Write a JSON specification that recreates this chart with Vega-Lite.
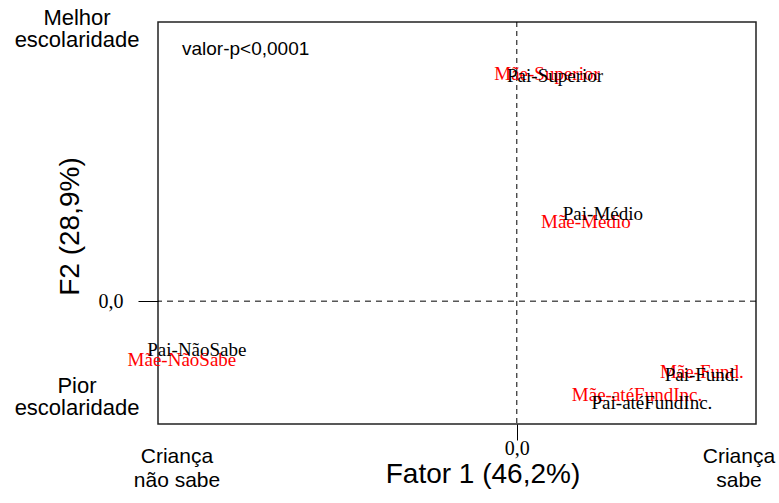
{
  "$schema": "https://vega.github.io/schema/vega-lite/v6.json",
  "width": 598,
  "height": 402,
  "autosize": {"type": "none"},
  "padding": {"left": 158, "top": 22, "right": 23, "bottom": 79},
  "background": "white",
  "config": {
    "view": {"stroke": "#222222", "strokeWidth": 1.5},
    "axisX": {
      "values": [0], "labelExpr": "'0,0'", "grid": false, "domain": false,
      "tickSize": 16, "tickColor": "black", "tickWidth": 1,
      "labelFont": "Liberation Serif", "labelFontSize": 20, "labelColor": "black", "labelPadding": -2,
      "titleFont": "Liberation Sans", "titleFontSize": 28, "titleFontWeight": "normal",
      "titleColor": "black", "titleX": 324.5, "titleY": 58, "titleBaseline": "alphabetic", "titleAlign": "center"
    },
    "axisY": {
      "values": [0], "labelExpr": "'0,0'", "grid": false, "domain": false,
      "tickSize": 20, "tickColor": "black", "tickWidth": 1,
      "labelFont": "Liberation Serif", "labelFontSize": 20, "labelColor": "black", "labelPadding": 15,
      "titleFont": "Liberation Sans", "titleFontSize": 28, "titleFontWeight": "normal",
      "titleColor": "black", "titleX": -80, "titleY": 204, "titleAngle": -90, "titleBaseline": "alphabetic", "titleAlign": "center"
    }
  },
  "layer": [
    {
      "data": {"values": [{"x": 0}]},
      "mark": {"type": "rule", "color": "black", "strokeWidth": 1, "strokeDash": [5, 4]},
      "encoding": {
        "x": {"field": "x", "type": "quantitative", "title": "Fator 1 (46,2%)", "scale": {"domain": [-1.2, 0.8], "nice": false, "zero": false}, "axis": {"values": [0], "labelExpr": "'0,0'"}}
      }
    },
    {
      "data": {"values": [{"y": 0}]},
      "mark": {"type": "rule", "color": "black", "strokeWidth": 1, "strokeDash": [6, 5]},
      "encoding": {
        "y": {"field": "y", "type": "quantitative", "title": "F2 (28,9%)", "scale": {"domain": [-0.44, 1.0], "nice": false, "zero": false}, "axis": {"values": [0], "labelExpr": "'0,0'"}}
      }
    },
    {
      "data": {"values": [
        {"label": "Mãe-Superior", "grupo": "Mãe", "x": 0.101, "y": 0.814},
        {"label": "Pai-Superior", "grupo": "Pai", "x": 0.128, "y": 0.807},
        {"label": "Mãe-Médio", "grupo": "Mãe", "x": 0.231, "y": 0.284},
        {"label": "Pai-Médio", "grupo": "Pai", "x": 0.288, "y": 0.312},
        {"label": "Mãe-NãoSabe", "grupo": "Mãe", "x": -1.120, "y": -0.211},
        {"label": "Pai-NãoSabe", "grupo": "Pai", "x": -1.070, "y": -0.175},
        {"label": "Mãe-Fund.", "grupo": "Mãe", "x": 0.619, "y": -0.254},
        {"label": "Pai-Fund.", "grupo": "Pai", "x": 0.619, "y": -0.264},
        {"label": "Mãe-atéFundInc.", "grupo": "Mãe", "x": 0.402, "y": -0.336},
        {"label": "Pai-atéFundInc.", "grupo": "Pai", "x": 0.452, "y": -0.365}
      ]},
      "mark": {"type": "text", "font": "Liberation Serif", "fontSize": 19, "align": "center", "baseline": "middle"},
      "encoding": {
        "x": {"field": "x", "type": "quantitative", "title": "Fator 1 (46,2%)", "scale": {"domain": [-1.2, 0.8], "nice": false, "zero": false}, "axis": {"values": [0], "labelExpr": "'0,0'"}},
        "y": {"field": "y", "type": "quantitative", "title": "F2 (28,9%)", "scale": {"domain": [-0.44, 1.0], "nice": false, "zero": false}, "axis": {"values": [0], "labelExpr": "'0,0'"}},
        "text": {"field": "label", "type": "nominal"},
        "color": {"field": "grupo", "type": "nominal", "scale": {"domain": ["Mãe", "Pai"], "range": ["#ff0000", "#000000"]}, "legend": null}
      }
    },
    {
      "data": {"values": [
        {"t": "valor-p<0,0001", "x": -1.1197, "y": 0.8818}
      ]},
      "mark": {"type": "text", "font": "Liberation Sans", "fontSize": 19, "align": "left", "baseline": "alphabetic", "color": "black"},
      "encoding": {
        "x": {"field": "x", "type": "quantitative", "title": "Fator 1 (46,2%)", "axis": {"values": [0], "labelExpr": "'0,0'"}},
        "y": {"field": "y", "type": "quantitative", "title": "F2 (28,9%)", "axis": {"values": [0], "labelExpr": "'0,0'"}},
        "text": {"field": "t", "type": "nominal"}
      }
    },
    {
      "data": {"values": [
        {"t": "Melhor", "x": -1.4709, "y": 0.9893},
        {"t": "escolaridade", "x": -1.4709, "y": 0.9104},
        {"t": "Pior", "x": -1.4709, "y": -0.3289},
        {"t": "escolaridade", "x": -1.4709, "y": -0.4077}
      ]},
      "mark": {"type": "text", "font": "Liberation Sans", "fontSize": 22, "align": "center", "baseline": "alphabetic", "color": "black"},
      "encoding": {
        "x": {"field": "x", "type": "quantitative", "title": "Fator 1 (46,2%)", "axis": {"values": [0], "labelExpr": "'0,0'"}},
        "y": {"field": "y", "type": "quantitative", "title": "F2 (28,9%)", "axis": {"values": [0], "labelExpr": "'0,0'"}},
        "text": {"field": "t", "type": "nominal"}
      }
    },
    {
      "data": {"values": [
        {"t": "Criança", "x": -1.1365, "y": -0.5797},
        {"t": "não sabe", "x": -1.1365, "y": -0.6656},
        {"t": "Criança", "x": 0.7431, "y": -0.5797},
        {"t": "sabe", "x": 0.7431, "y": -0.6656}
      ]},
      "mark": {"type": "text", "font": "Liberation Sans", "fontSize": 21, "align": "center", "baseline": "alphabetic", "color": "black"},
      "encoding": {
        "x": {"field": "x", "type": "quantitative", "title": "Fator 1 (46,2%)", "axis": {"values": [0], "labelExpr": "'0,0'"}},
        "y": {"field": "y", "type": "quantitative", "title": "F2 (28,9%)", "axis": {"values": [0], "labelExpr": "'0,0'"}},
        "text": {"field": "t", "type": "nominal"}
      }
    }
  ]
}
